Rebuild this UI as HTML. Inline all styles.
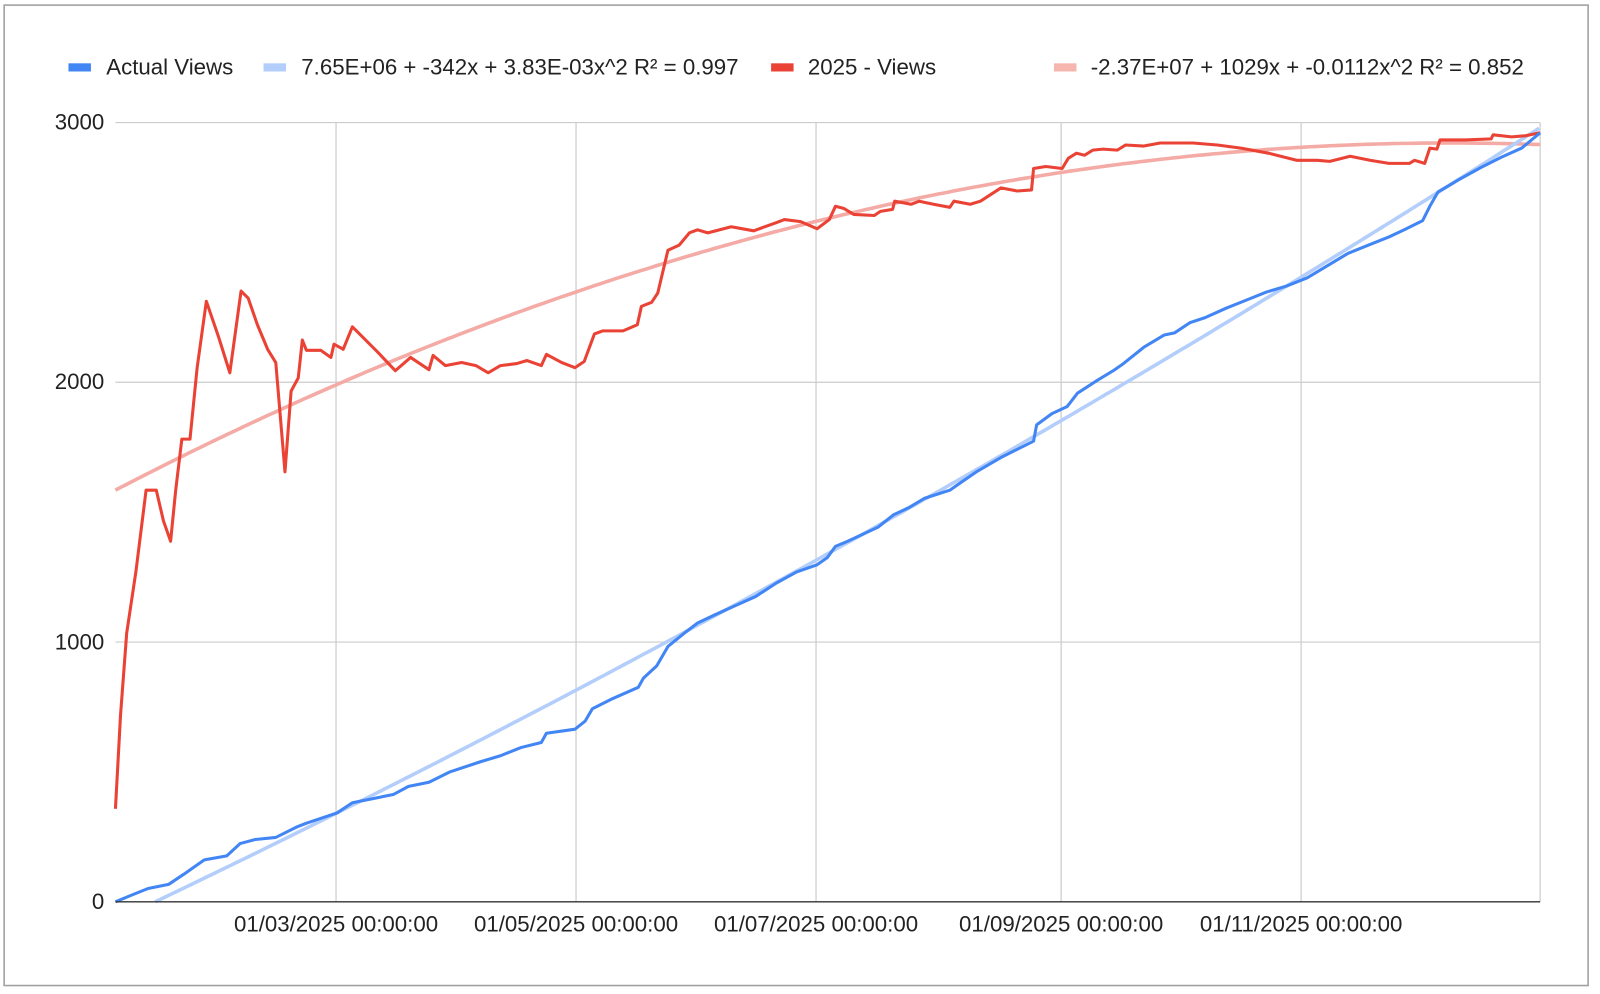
<!DOCTYPE html>
<html><head><meta charset="utf-8"><style>
html,body{margin:0;padding:0;background:#fff;}
svg{display:block;}
text{font-family:"Liberation Sans",Arial,sans-serif;fill:#222;}
</style></head><body>
<svg id="s" width="1600" height="994" viewBox="0 0 1566.6 973.3" xmlns="http://www.w3.org/2000/svg">
<rect x="4" y="5" width="1551" height="960" fill="#fff" stroke="#9e9e9e" stroke-width="1.5"/>
<g stroke="#cccccc" stroke-width="1.2">
<line x1="113" y1="120" x2="1508" y2="120"/>
<line x1="113" y1="374.3" x2="1508" y2="374.3"/>
<line x1="113" y1="628.7" x2="1508" y2="628.7"/>
<line x1="329" y1="120" x2="329" y2="883"/>
<line x1="564" y1="120" x2="564" y2="883"/>
<line x1="799" y1="120" x2="799" y2="883"/>
<line x1="1039" y1="120" x2="1039" y2="883"/>
<line x1="1274" y1="120" x2="1274" y2="883"/>
<line x1="1508" y1="120" x2="1508" y2="883"/>
</g>
<g font-size="21.8" text-anchor="end">
<text x="102" y="127">3000</text>
<text x="102" y="381">2000</text>
<text x="102" y="636">1000</text>
<text x="102" y="890">0</text>
</g>
<g font-size="21.8" text-anchor="middle">
<text x="329" y="912">01/03/2025 00:00:00</text>
<text x="564" y="912">01/05/2025 00:00:00</text>
<text x="799" y="912">01/07/2025 00:00:00</text>
<text x="1039" y="912">01/09/2025 00:00:00</text>
<text x="1274" y="912">01/11/2025 00:00:00</text>
</g>
<g font-size="21.8">
<rect x="67" y="62" width="22" height="8" fill="#4285f4"/><text x="104" y="73">Actual Views</text>
<rect x="258" y="62" width="22" height="8" fill="#b3cefb"/><text x="295" y="73">7.65E+06 + -342x + 3.83E-03x^2 R² = 0.997</text>
<rect x="755" y="62" width="22" height="8" fill="#ea4335"/><text x="791" y="73">2025 - Views</text>
<rect x="1032" y="62" width="22" height="8" fill="#f7b5b0"/><text x="1068" y="73">-2.37E+07 + 1029x + -0.0112x^2 R² = 0.852</text>
</g>
<polyline id="rt" fill="none" stroke="#f4aaa5" stroke-width="3.5"/>
<polyline id="bt" fill="none" stroke="#b3cefb" stroke-width="3.5"/>
<polyline fill="none" stroke="#ea4335" stroke-width="3" stroke-linejoin="round" points="113,792 118,700 124,620 133,560 143,480 153,480 160,510 167,530 172,480 178,430 186,430 193,360 202,295 214,330 225,365 236,285 243,292 252,318 262,342 270,355 279,462 285,383 292,370 296,333 300,343 314,343 324,350 327,337 336,342 345,320 353,328 370,345 387,363 402,350 420,362 424,348 436,358 452,355 466,358 478,365 490,358 506,356 516,353 530,358 535,347 550,355 563,360 572,354 582,327 590,324 610,324 624,318 628,300 638,296 644,287 654,245 665,240 675,228 683,225 693,228 716,222 738,226 760,218 768,215 784,217 800,224 812,215 818,202 826,204 836,210 856,211 862,207 874,205 876,197 892,200 900,197 914,200 930,203 934,197 950,200 960,197 980,184 996,187 1010,186 1012,165 1024,163 1040,165 1046,155 1054,150 1062,152 1070,147 1080,146 1094,147 1102,142 1120,143 1136,140 1150,140 1168,140 1192,142 1215,145 1242,150 1270,157 1290,157 1302,158 1322,153 1342,157 1360,160 1380,160 1385,157 1395,160 1400,145 1407,146 1410,137 1435,137 1460,136 1462,132 1480,134 1493,133 1508,130"/>
<polyline fill="none" stroke="#4285f4" stroke-width="3" stroke-linejoin="round" points="113,883 130,876 145,870 165,866 180,856 200,842 222,838 235,826 250,822 270,820 290,810 300,806 330,796 345,786 385,778 400,770 420,766 440,756 470,746 490,740 510,732 530,727 535,718 563,714 573,706 580,694 600,684 625,673 630,664 643,652 654,633 670,620 683,610 700,602 720,593 740,584 760,571 780,560 800,553 810,546 818,535 830,530 860,516 875,504 890,497 905,488 930,480 940,473 956,462 980,448 1000,438 1012,432 1015,416 1030,405 1045,398 1055,385 1075,372 1090,363 1100,356 1120,340 1140,328 1150,326 1165,316 1180,311 1200,302 1220,294 1240,286 1260,280 1280,272 1300,260 1320,248 1340,240 1360,232 1375,225 1393,216 1400,202 1408,188 1430,175 1450,164 1470,154 1490,145 1508,130"/>
<line x1="113" y1="883" x2="1508" y2="883" stroke="#333" stroke-width="1.3"/>
</svg>
<script>
var r=[],b=[];
for(var x=113;x<=1508;x+=5){r.push(x+","+(1.99e-4*(x-1420)*(x-1420)+140).toFixed(1));}
function L(x){var x0=152,y0=883,x1=800,y1=548,x2=1508,y2=125;
return y0*(x-x1)*(x-x2)/((x0-x1)*(x0-x2))+y1*(x-x0)*(x-x2)/((x1-x0)*(x1-x2))+y2*(x-x0)*(x-x1)/((x2-x0)*(x2-x1));}
for(var x=152;x<=1508;x+=5){b.push(x+","+L(x).toFixed(1));}
document.getElementById("rt").setAttribute("points",r.join(" "));
document.getElementById("bt").setAttribute("points",b.join(" "));
</script>
</body></html>
